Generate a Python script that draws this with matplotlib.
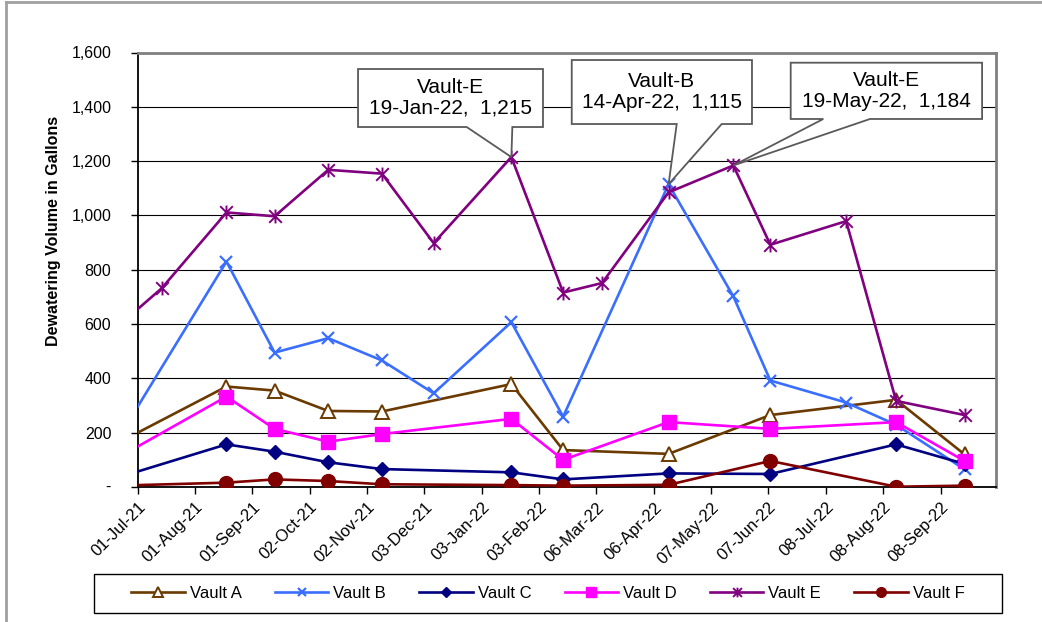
import matplotlib
matplotlib.use('Agg')
import matplotlib.pyplot as plt
import matplotlib.dates as mdates
from matplotlib.path import Path
from matplotlib.patches import Polygon, Rectangle
from matplotlib.lines import Line2D
from matplotlib.ticker import FuncFormatter
import datetime as dt

plt.rcParams['font.family'] = ['Liberation Sans', 'DejaVu Sans']

# ---------------- data ----------------
x_tick_labels = ['01-Jul-21', '01-Aug-21', '01-Sep-21', '02-Oct-21', '02-Nov-21',
                 '03-Dec-21', '03-Jan-22', '03-Feb-22', '06-Mar-22', '06-Apr-22',
                 '07-May-22', '07-Jun-22', '08-Jul-22', '08-Aug-22', '08-Sep-22']
x_start = '01-Jul-21'
x_end = '08-Oct-22'
y_ticks = [0, 200, 400, 600, 800, 1000, 1200, 1400, 1600]

common_dates = ['01-Jul-21', '18-Aug-21', '13-Sep-21', '12-Oct-21', '10-Nov-21',
                '19-Jan-22', '16-Feb-22', '14-Apr-22', '08-Jun-22', '15-Aug-22', '21-Sep-22']
vault_a = [200, 370, 355, 280, 278, 379, 136, 122, 265, 321, 120]
vault_c = [57, 157, 130, 91, 66, 54, 28, 50, 48, 157, 85]
vault_d = [149, 333, 214, 167, 195, 251, 100, 239, 214, 239, 96]
vault_f = [7, 16, 28, 22, 10, 7, 5, 8, 96, 1, 5]

vault_b_dates = ['01-Jul-21', '18-Aug-21', '13-Sep-21', '12-Oct-21', '10-Nov-21',
                 '08-Dec-21', '19-Jan-22', '16-Feb-22', '14-Apr-22', '19-May-22',
                 '08-Jun-22', '19-Jul-22', '15-Aug-22', '21-Sep-22']
vault_b = [296, 830, 495, 548, 466, 345, 607, 259, 1115, 702, 392, 311, 229, 65]

vault_e_dates = ['01-Jul-21', '14-Jul-21', '18-Aug-21', '13-Sep-21', '12-Oct-21',
                 '10-Nov-21', '08-Dec-21', '19-Jan-22', '16-Feb-22', '09-Mar-22',
                 '14-Apr-22', '19-May-22', '08-Jun-22', '19-Jul-22', '15-Aug-22', '21-Sep-22']
vault_e = [655, 732, 1011, 997, 1168, 1154, 898, 1215, 716, 751, 1085, 1184, 892, 979, 317, 265]

callouts = [
    ('Vault-E', '19-Jan-22', 1215),
    ('Vault-B', '14-Apr-22', 1115),
    ('Vault-E', '19-May-22', 1184),
]


def d(s):
    return dt.datetime.strptime(s, '%d-%b-%y')


# ---------------- figure ----------------
fig = plt.figure(figsize=(10.42, 6.22), dpi=100)
ax = fig.add_axes([137.7 / 1042, 1 - 487 / 622, 858.3 / 1042, 434.5 / 622])

star_path = Path([(-1, -1), (1, 1), (-1, 1), (1, -1), (0, -1.1), (0, 1.1)],
                 [Path.MOVETO, Path.LINETO] * 3)

series = [
    ('Vault A', common_dates, vault_a, dict(color='#6B3A00', marker='^', ms=10, mfc='white', mew=1.4)),
    ('Vault B', vault_b_dates, vault_b, dict(color='#3A6EFF', marker='x', ms=9, mew=1.6)),
    ('Vault C', common_dates, vault_c, dict(color='#000080', marker='D', ms=7, mew=1)),
    ('Vault D', common_dates, vault_d, dict(color='#FF00FF', marker='s', ms=10, mew=1)),
    ('Vault E', vault_e_dates, vault_e, dict(color='#800080', marker=star_path, ms=10, mfc='none', mew=1.4)),
    ('Vault F', common_dates, vault_f, dict(color='#800000', marker='o', ms=10, mew=1)),
]

handles = []
for i, (name, dates, vals, st) in enumerate(series):
    xs = [d(s) for s in dates]
    ln, = ax.plot(xs, vals, lw=1.9, markevery=list(range(1, len(vals))),
                  label=name, zorder=3 + i, clip_on=True, **st)
    handles.append(ln)

ax.set_xlim(d(x_start), d(x_end))
ax.set_ylim(0, 1600)

ax.set_xticks([mdates.date2num(d(s)) for s in x_tick_labels])
ax.set_xticklabels(x_tick_labels, rotation=45, ha='right', va='top',
                   rotation_mode='anchor', fontsize=12)
ax.set_yticks(y_ticks)
ax.yaxis.set_major_formatter(FuncFormatter(lambda v, p: '' if v == 0 else f'{v:,.0f}'))
ax.tick_params(axis='y', labelsize=11.5, length=5, width=1, direction='out', pad=14)
ax.tick_params(axis='x', length=5, width=1, direction='out', pad=4)
# zero shown as "-" (accounting format), slightly indented
ax.text(-0.035, 0, '-', transform=ax.get_yaxis_transform(), ha='center', va='center',
        fontsize=11.5)

ax.yaxis.grid(True, color='black', lw=0.8)
ax.set_axisbelow(True)
for s in ['left', 'bottom']:
    ax.spines[s].set_color('black')
    ax.spines[s].set_linewidth(1.3)
for s in ['top', 'right']:
    ax.spines[s].set_color('#808080')
    ax.spines[s].set_linewidth(2)

ax.set_ylabel('Dewatering Volume in Gallons', fontsize=11.5, fontweight='bold')
ax.yaxis.set_label_coords(-0.0894, 0.59)

# ---------------- callouts ----------------
fig.canvas.draw()
box_geom = [
    (0.2567, 0.4722, 0.8285, 0.962, 0.3833, 0.4365),
    (0.5057, 0.7157, 0.8354, 0.9827, 0.628, 0.6804),
    (0.7608, 0.9838, 0.847, 0.9765, 0.7988, 0.8532),
]
for (title, date_s, val), (x0, x1, y0, y1, bx0, bx1) in zip(callouts, box_geom):
    tip = ax.transAxes.inverted().transform(
        ax.transData.transform((mdates.date2num(d(date_s)), val)))
    verts = [(x0, y1), (x1, y1), (x1, y0), (bx1, y0), tuple(tip), (bx0, y0), (x0, y0)]
    poly = Polygon(verts, closed=True, transform=ax.transAxes, fc='white',
                   ec='#5a5a5a', lw=1.3, zorder=20, clip_on=False)
    ax.add_patch(poly)
    ax.text((x0 + x1) / 2, (y0 + y1) / 2, f'{title}\n{date_s},  {val:,}',
            transform=ax.transAxes, ha='center', va='center', fontsize=15,
            linespacing=1.1, zorder=21)

# ---------------- legend ----------------
fig.add_artist(Rectangle((94 / 1042, 1 - 613 / 622), 908 / 1042, 39 / 622,
                         transform=fig.transFigure, fill=False, ec='black', lw=1))
fig.legend(handles, [h.get_label() for h in handles], loc='center',
           bbox_to_anchor=(548 / 1042, 1 - 593.5 / 622), ncol=6, frameon=False,
           fontsize=12, handlelength=3.2, handletextpad=0.3, columnspacing=2.0,
           markerscale=0.7)

# outer border
fig.add_artist(Line2D([6 / 1042, 6 / 1042], [0, 1 - 1.5 / 622], color='#a0a0a0', lw=2,
                      transform=fig.transFigure))
fig.add_artist(Line2D([6 / 1042, 1], [1 - 1.5 / 622, 1 - 1.5 / 622], color='#a0a0a0', lw=2,
                      transform=fig.transFigure))

fig.savefig('out.png', dpi=100)
